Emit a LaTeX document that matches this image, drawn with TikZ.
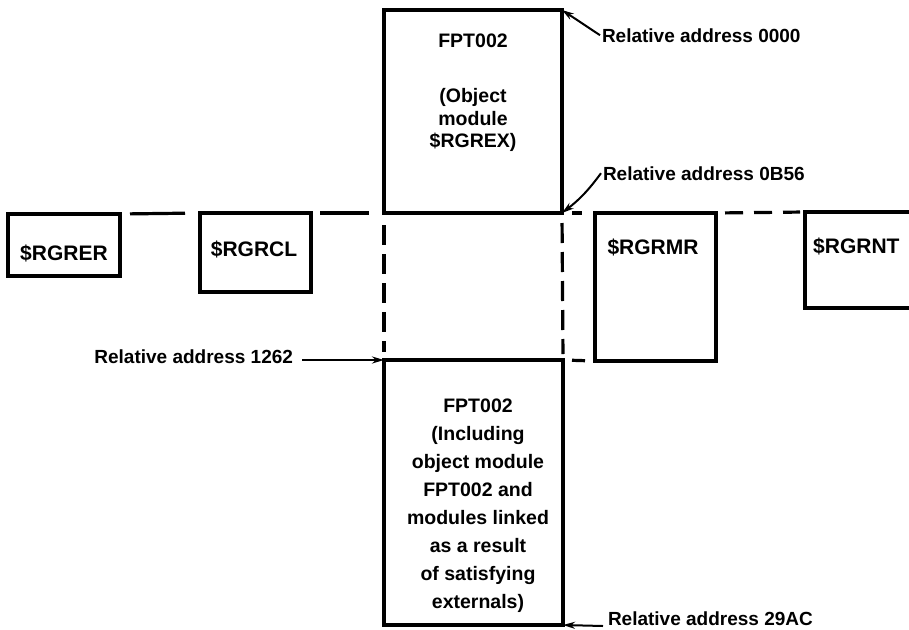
\documentclass[tikz,border=0pt]{standalone}
\usepackage{fontspec}
\setmainfont{Liberation Sans}
\usetikzlibrary{arrows.meta}
\begin{document}
\begin{tikzpicture}[x=1pt,y=-1pt,
  boxnode/.style={draw,line width=3.2pt,rectangle,inner sep=0pt,outer sep=0pt,anchor=north west},
  dashline/.style={line width=3.2pt},
  vdash/.style={line width=3.2pt,dash pattern=on 20pt off 9pt},
  arr/.style={line width=2pt,-{Stealth[length=12pt,width=7pt]}},
  lbl/.style={font=\fontsize{19}{22}\selectfont\bfseries,inner sep=0pt,outer sep=0pt},
  txt/.style={font=\fontsize{19.5}{22}\selectfont\bfseries,inner sep=0pt},
  modtxt/.style={font=\fontsize{21}{24}\selectfont\bfseries,inner sep=0pt}]
\useasboundingbox (0,0) rectangle (909,629);
% boxes
\node[boxnode,minimum width=178pt,minimum height=203pt] (top) at (384,10) {};
\node[boxnode,minimum width=112pt,minimum height=62pt] (rer) at (8,214) {};
\node[boxnode,minimum width=111pt,minimum height=79pt] (rcl) at (200,213) {};
\node[boxnode,minimum width=121pt,minimum height=148pt] (rmr) at (595,213) {};
\node[boxnode,minimum width=130pt,minimum height=96pt] (rnt) at (805,212) {};
\node[boxnode,minimum width=179pt,minimum height=265pt] (bot) at (384,360) {};
% box texts
\node[txt,anchor=base] (tname) at (473,47) {FPT002};
\node[txt,anchor=base] (tl1) at (473,102) {(Object};
\node[txt,anchor=base] (tl2) at (473,125) {module};
\node[txt,anchor=base] (tl3) at (473,147) {\$RGREX)};
\foreach \t [count=\i] in {{FPT002},{(Including},{object module},{FPT002 and},{modules linked},{as a result},{of satisfying},{externals)}}
  \node[txt,anchor=base] (bl\i) at (478,{412+28*(\i-1)}) {\t};
\node[modtxt,anchor=base] (trer) at (64,260) {\$RGRER};
\node[modtxt,anchor=base] (trcl) at (254,256) {\$RGRCL};
\node[modtxt,anchor=base] (trmr) at (653,254) {\$RGRMR};
\node[modtxt,anchor=base west] (trnt) at (813,253) {\$RGRNT};
% dashed connections
\draw[dashline,shorten <=10pt,shorten >=15pt] (rer.north east) -- (rcl.north west);
\draw[dashline,shorten <=9pt,shorten >=15pt] (rcl.north east) -- (top.south west);
\draw[dashline,shorten <=10pt,shorten >=13pt] (top.south east) -- (rmr.north west);
\draw[dashline,shorten <=9pt,shorten >=10pt] (bot.north east) -- (rmr.south west);
\draw[dashline,dash pattern=on 18pt off 11pt,shorten <=9pt,shorten >=5pt] (rmr.north east) -- (rnt.north west);
\draw[vdash,shorten <=12pt,shorten >=8pt] (top.south west) -- (bot.north west);
\draw[vdash,shorten <=10pt,shorten >=6pt] (top.south east) -- (bot.north east);
% address labels
\node[lbl,anchor=base west] (a0000) at (602,42) {Relative address 0000};
\node[lbl,anchor=base west] (a0b56) at (603,180) {Relative address 0B56};
\node[lbl,anchor=base east] (a1262) at (293,363) {Relative address 1262};
\node[lbl,anchor=base west] (a29ac) at (608,625) {Relative address 29AC};
\coordinate (s1262) at (302,360);
\coordinate (s29ac) at (603,626);
\draw[arr] ([xshift=-2pt]a0000.west) -- (top.north east);
\draw[arr] ([xshift=-2pt]a0b56.west) to[bend left=8] (top.south east);
\draw[arr] (s1262) -- (bot.north west);
\draw[arr] (s29ac) -- (bot.south east);
\end{tikzpicture}
\end{document}
